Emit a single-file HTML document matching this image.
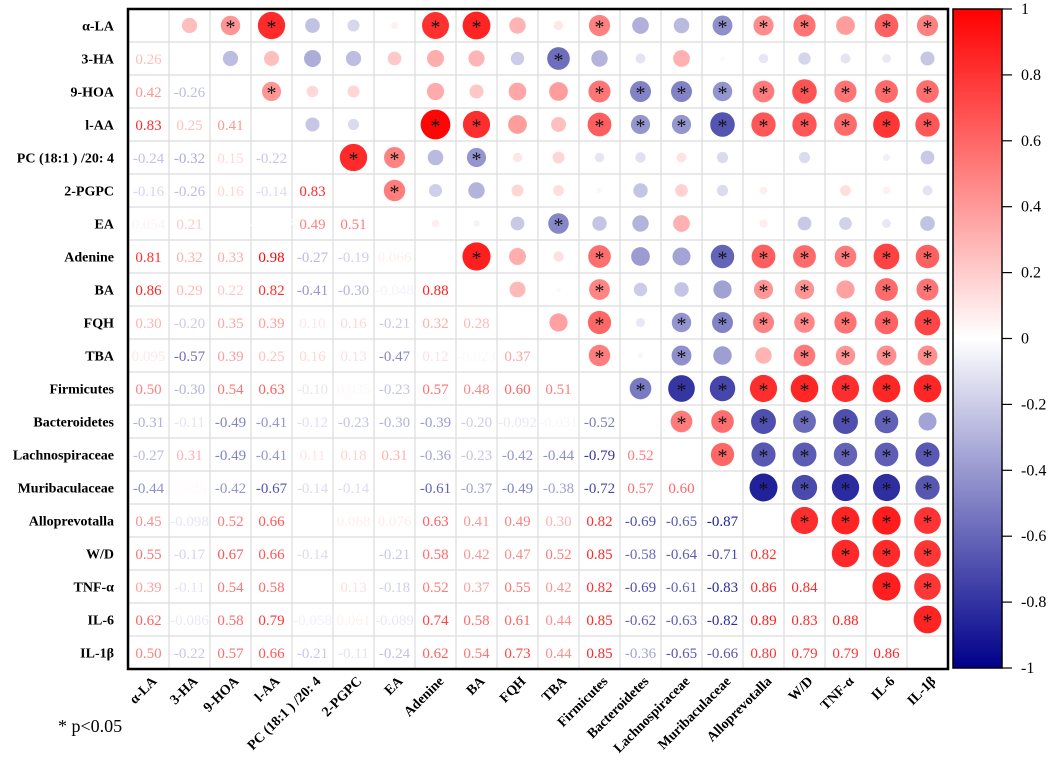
<!DOCTYPE html>
<html><head><meta charset="utf-8"><style>
html,body{margin:0;padding:0;background:#fff;}
svg{display:block;font-family:"Liberation Serif",serif;}
</style></head><body>
<svg id="chart" width="1052" height="763" viewBox="0 0 1052 763" xmlns="http://www.w3.org/2000/svg">
<defs>
<linearGradient id="cbgrad" x1="0" y1="0" x2="0" y2="1">
<stop offset="0" stop-color="#ff0000"/><stop offset="0.5" stop-color="#ffffff"/><stop offset="1" stop-color="#00008b"/>
</linearGradient>
</defs>
<g id="grid"></g>
<g id="cells"></g>
<g id="labels"></g>
<g id="colorbar"></g>
<text x="58" y="732" font-size="18">* p&lt;0.05</text>
</svg>
<script>
const variables = ["α-LA","3-HA","9-HOA","l-AA","PC (18:1 ) /20: 4","2-PGPC","EA","Adenine","BA","FQH","TBA","Firmicutes","Bacteroidetes","Lachnospiraceae","Muribaculaceae","Alloprevotalla","W/D","TNF-α","IL-6","IL-1β"];
const corrLower = [
 [],
 [0.26],
 [0.42,-0.26],
 [0.83,0.25,0.41],
 [-0.24,-0.32,0.15,-0.22],
 [-0.16,-0.26,0.16,-0.14,0.83],
 [0.054,0.21,0,-0.0027,0.49,0.51],
 [0.81,0.32,0.33,0.98,-0.27,-0.19,0.066],
 [0.86,0.29,0.22,0.82,-0.41,-0.30,-0.048,0.88],
 [0.30,-0.20,0.35,0.39,0.10,0.16,-0.21,0.32,0.28],
 [0.095,-0.57,0.39,0.25,0.16,0.13,-0.47,0.12,-0.023,0.37],
 [0.50,-0.30,0.54,0.63,-0.10,0.035,-0.23,0.57,0.48,0.60,0.51],
 [-0.31,-0.11,-0.49,-0.41,-0.12,-0.23,-0.30,-0.39,-0.20,-0.092,-0.031,-0.52],
 [-0.27,0.31,-0.49,-0.41,0.11,0.18,0.31,-0.36,-0.23,-0.42,-0.44,-0.79,0.52],
 [-0.44,0.025,-0.42,-0.67,-0.14,-0.14,0,-0.61,-0.37,-0.49,-0.38,-0.72,0.57,0.60],
 [0.45,-0.098,0.52,0.66,0,0.068,0.076,0.63,0.41,0.49,0.30,0.82,-0.69,-0.65,-0.87],
 [0.55,-0.17,0.67,0.66,-0.14,0,-0.21,0.58,0.42,0.47,0.52,0.85,-0.58,-0.64,-0.71,0.82],
 [0.39,-0.11,0.54,0.58,0,0.13,-0.18,0.52,0.37,0.55,0.42,0.82,-0.69,-0.61,-0.83,0.86,0.84],
 [0.62,-0.086,0.58,0.79,-0.058,0.061,-0.089,0.74,0.58,0.61,0.44,0.85,-0.62,-0.63,-0.82,0.89,0.83,0.88],
 [0.50,-0.22,0.57,0.66,-0.21,-0.11,-0.24,0.62,0.54,0.73,0.44,0.85,-0.36,-0.65,-0.66,0.80,0.79,0.79,0.86]
];
// significant (p<0.05) columns in upper triangle, per row
const sigCols = [
 [2,3,7,8,11,14,15,16,18,19],
 [10],
 [3,11,12,13,14,15,16,17,18,19],
 [7,8,11,12,13,14,15,16,17,18,19],
 [5,6,8],
 [6],
 [10],
 [8,11,14,15,16,17,18,19],
 [11,15,16,18,19],
 [11,13,14,15,16,17,18,19],
 [11,13,16,17,18,19],
 [12,13,14,15,16,17,18,19],
 [13,14,15,16,17,18],
 [14,15,16,17,18,19],
 [15,16,17,18,19],
 [16,17,18,19],
 [17,18,19],
 [18,19],
 [19],
 []
];
const cbTicks = [1,0.8,0.6,0.4,0.2,0,-0.2,-0.4,-0.6,-0.8,-1];

const NS="http://www.w3.org/2000/svg";
const GX=128, GY=9, CW=41, CH=33, N=variables.length;
const CBX=953, CBW=49, CBTOP=9, CBBOT=668;
const xC = j => GX + CW*j + CW/2;
const yC = i => GY + CH*i + CH/2;
const cbY = v => CBTOP + (1-v)/2*(CBBOT-CBTOP);
function color(v){
  v=Math.max(-1,Math.min(1,v));
  let r,g,b;
  if(v>=0){r=255;g=Math.round(255*(1-v));b=Math.round(255*(1-v));}
  else{const t=-v;r=Math.round(255*(1-t));g=Math.round(255*(1-t));b=Math.round(255-(255-139)*t);}
  return `rgb(${r},${g},${b})`;
}
function mk(tag,attrs,parent){const e=document.createElementNS(NS,tag);for(const k in attrs)e.setAttribute(k,attrs[k]);parent.appendChild(e);return e;}
const corr = (i,j)=> i>j ? corrLower[i][j] : corrLower[j][i];
function fmt(v){ if(v===0) return ""; return Math.abs(v)<0.1 ? String(v) : v.toFixed(2); }

const grid=document.getElementById('grid'), cells=document.getElementById('cells'), labels=document.getElementById('labels'), cb=document.getElementById('colorbar');
for(let k=1;k<N;k++){
  const l1=mk('line',{x1:GX+CW*k,y1:GY,x2:GX+CW*k,y2:GY+CH*N,stroke:'#dcdcdc','stroke-width':1.2},grid);
  
  
  const l2=mk('line',{x1:GX,y1:GY+CH*k,x2:GX+CW*N,y2:GY+CH*k,stroke:'#dcdcdc','stroke-width':1.2},grid);
  
  
}
for(let i=0;i<N;i++){
  for(let j=0;j<N;j++){
    if(i===j) continue;
    const v=corr(i,j);
    if(i>j){
      const t=mk('text',{x:xC(j),y:yC(i)+5.5,'text-anchor':'middle','font-size':15,fill:color(v)},cells);
      t.textContent=fmt(v);
      
      
    } else {
      const c=mk('circle',{cx:xC(j),cy:yC(i),r:15*Math.sqrt(Math.abs(v)),fill:color(v)},cells);
      
      
      if(sigCols[i].includes(j)){
        const s=mk('text',{x:xC(j),y:yC(i)+8,'text-anchor':'middle','font-size':20,fill:'#111'},cells);
        s.textContent='*';
        
        
      }
    }
  }
}
const border=mk('rect',{x:GX,y:GY,width:CW*N,height:CH*N,fill:'none',stroke:'#000','stroke-width':2.5},grid);


variables.forEach((name,i)=>{
  const t=mk('text',{x:114,y:yC(i)+5,'text-anchor':'end','font-size':14,'font-weight':'bold'},labels);
  t.textContent=name;
  
  
  const ex=xC(i)+9, ey=GY+CH*N+13;
  const x=mk('text',{x:ex,y:ey,'text-anchor':'end','font-size':14,'font-weight':'bold',transform:`rotate(-45 ${ex} ${ey})`},labels);
  x.textContent=name;
  
  
});
const bar=mk('rect',{x:CBX,y:CBTOP,width:CBW,height:CBBOT-CBTOP,fill:'url(#cbgrad)',stroke:'#000','stroke-width':1.5},cb);


cbTicks.forEach(v=>{
  const y=cbY(v);
  const l=mk('line',{x1:CBX+CBW,y1:y,x2:CBX+CBW+10,y2:y,stroke:'#000','stroke-width':1.2},cb);
  
  
  const t=mk('text',{x:1021,y:y+5,'font-size':16},cb);
  t.textContent=String(v);
  
  
});
</script>
</body></html>
